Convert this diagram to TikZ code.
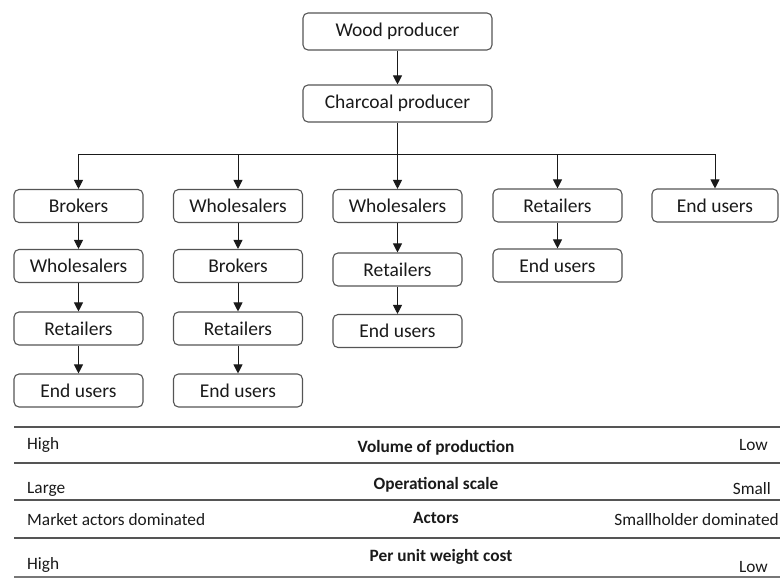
\documentclass[tikz,border=0pt]{standalone}
\usepackage{fontspec}
\setmainfont{Carlito}
\usetikzlibrary{arrows.meta}
\definecolor{edge}{HTML}{555555}
\definecolor{txt}{HTML}{1A1A1A}
\tikzset{
  box/.style={draw=edge, line width=1.1pt, rounded corners=5pt, minimum width=129pt, minimum height=33pt, inner sep=0pt, text=txt, font=\fontsize{19.5}{22}\selectfont},
  bigbox/.style={box, minimum width=189pt, minimum height=37pt},
  arr/.style={draw=txt, line width=1pt, -{Triangle[length=9pt,width=9pt]}},
  plain/.style={draw=txt, line width=1pt},
  rule/.style={draw=edge, line width=1.3pt},
  tl/.style={anchor=west, text=txt, inner sep=0pt, font=\fontsize{17.3}{20}\selectfont},
  tr/.style={anchor=east, text=txt, inner sep=0pt, font=\fontsize{17.3}{20}\selectfont},
  tc/.style={anchor=center, text=txt, inner sep=0pt, font=\fontsize{17.3}{20}\selectfont\bfseries},
}
\begin{document}
\begin{tikzpicture}[x=1pt,y=-1pt]
\useasboundingbox (0,0) rectangle (780,579);
% top
\node[bigbox] (wood) at (397.5,31.5) {Wood producer};
\node[bigbox] (char) at (397.5,103.5) {Charcoal producer};
\draw[arr] (wood) -- (char);
\coordinate (bus) at (397.5,154);
\draw[plain] (char) -- (bus);
% column 1
\node[box] (a1) at (78.5,206) {Brokers};
\node[box] (a2) at (78.5,266) {Wholesalers};
\node[box] (a3) at (78.5,328.5) {Retailers};
\node[box] (a4) at (78.5,390.5) {End users};
% column 2
\node[box] (b1) at (238,206) {Wholesalers};
\node[box] (b2) at (238,266) {Brokers};
\node[box] (b3) at (238,328.5) {Retailers};
\node[box] (b4) at (238,390.5) {End users};
% column 3
\node[box] (c1) at (397.5,206) {Wholesalers};
\node[box] (c2) at (397.5,269.5) {Retailers};
\node[box] (c3) at (397.5,331) {End users};
% column 4
\node[box] (d1) at (557.5,205.5) {Retailers};
\node[box] (d2) at (557.5,265.5) {End users};
% column 5
\node[box, minimum width=126pt] (e1) at (715,205.5) {End users};
% branches
\draw[arr] (bus) -| (a1.north);
\draw[arr] (bus) -| (b1.north);
\draw[arr] (bus) -- (c1.north);
\draw[arr] (bus) -| (d1.north);
\draw[arr] (bus) -| (e1.north);
% chains
\draw[arr] (a1) -- (a2);
\draw[arr] (a2) -- (a3);
\draw[arr] (a3) -- (a4);
\draw[arr] (b1) -- (b2);
\draw[arr] (b2) -- (b3);
\draw[arr] (b3) -- (b4);
\draw[arr] (c1) -- (c2);
\draw[arr] (c2) -- (c3);
\draw[arr] (d1) -- (d2);
% table rules
\draw[rule] (14,427) -- (780,427);
\draw[rule] (14,463) -- (780,463);
\draw[rule] (14,500) -- (780,500);
\draw[rule] (14,538) -- (780,538);
\draw[rule, line width=1.8pt, draw=edge!80] (14,577) -- (780,577);
% table text
\node[tl] (h1) at (27,445) {High};
\node[tc] (m1) at (436,448) {Volume of production};
\node[tr] (r1) at (768,445) {Low};
\node[tl] (h2) at (27,489) {Large};
\node[tc] (m2) at (436,485) {Operational scale};
\node[tr] (r2) at (771,489) {Small};
\node[tl] (h3) at (27,520) {Market actors dominated};
\node[tc] (m3) at (436,518) {Actors};
\node[tr] (r3) at (779,520) {Smallholder dominated};
\node[tl] (h4) at (27,565) {High};
\node[tc] (m4) at (441,557) {Per unit weight cost};
\node[tr] (r4) at (768,567) {Low};
\end{tikzpicture}
\end{document}
